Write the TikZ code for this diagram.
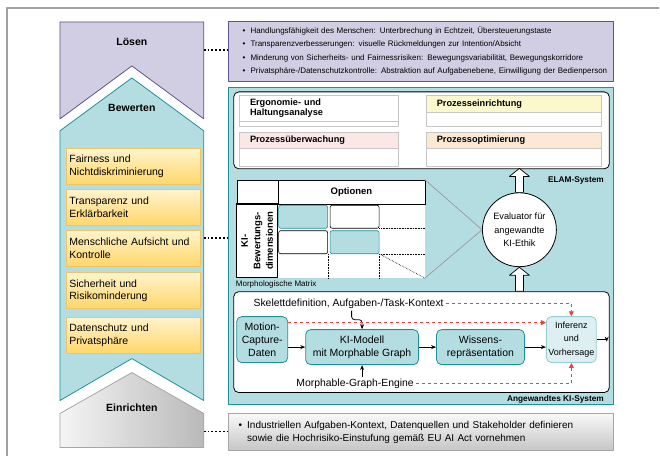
\documentclass[tikz,border=0pt]{standalone}
\usepackage{fontspec}
\setmainfont{Liberation Sans}
\usetikzlibrary{arrows.meta}
\definecolor{lila}{RGB}{209,205,227}
\definecolor{lilaline}{RGB}{95,85,140}
\definecolor{petrol}{RGB}{180,221,226}
\definecolor{petrolline}{RGB}{30,145,150}
\definecolor{crittop}{RGB}{255,244,205}
\definecolor{critbot}{RGB}{255,214,105}
\definecolor{critline}{RGB}{238,196,105}
\definecolor{hdyellow}{RGB}{252,248,205}
\definecolor{hdpink}{RGB}{252,231,231}
\definecolor{hdorange}{RGB}{252,232,212}
\definecolor{inferfill}{RGB}{221,239,243}
\definecolor{inferline}{RGB}{150,205,212}
\definecolor{redash}{RGB}{238,64,64}
\definecolor{framegray}{RGB}{160,160,160}
\begin{document}
\begin{tikzpicture}[
		x=1pt, y=-1pt,
		line join=round,
		font=\fontsize{10}{12}\selectfont
	]
	\tikzset{
		phaselbl/.style = {font=\fontsize{10.5}{12}\selectfont\bfseries},
		critbox/.style = {draw=critline, top color=crittop, bottom color=critbot,
			line width=0.7pt, minimum width=135pt, minimum height=36pt,
			text width=128pt, inner xsep=3.5pt, align=left,
			font=\fontsize{10.5}{12.4}\selectfont},
		infobox/.style = {draw=lilaline, fill=lila, line width=0.8pt,
			minimum width=385pt, minimum height=60pt, text width=357pt,
			inner xsep=14pt, align=left, font=\fontsize{8}{13.3}\selectfont},
		setupbox/.style = {draw=gray!70, top color=gray!5, bottom color=gray!45,
			line width=0.8pt, minimum width=385pt, minimum height=37pt,
			text width=365pt, inner xsep=10pt, align=left,
			font=\fontsize{10}{13}\selectfont},
		sysbox/.style = {draw=black, fill=white, rounded corners=5pt, line width=0.8pt},
		syslbl/.style = {anchor=east, font=\fontsize{8.3}{10}\selectfont\bfseries},
		appbox/.style = {draw=gray!45, fill=white, line width=0.6pt, anchor=north west},
		apphead/.style = {draw=gray!45, line width=0.6pt, anchor=north west,
			align=left, inner xsep=11pt, font=\fontsize{9.2}{10.7}\selectfont\bfseries},
		matline/.style = {draw=black, line width=0.7pt, inner sep=0pt},
		cellt/.style = {fill=petrol, draw=petrolline, rounded corners=2pt,
			line width=0.6pt, minimum width=49pt, minimum height=23pt},
		cellw/.style = {fill=white, draw=black, rounded corners=2pt,
			line width=0.6pt, minimum width=49pt, minimum height=23pt},
		procbox/.style = {draw=petrolline, fill=petrol, rounded corners=5pt,
			line width=0.8pt, align=center, inner sep=1pt,
			font=\fontsize{10.5}{13}\selectfont},
		plain/.style = {inner sep=2pt, font=\fontsize{10.4}{12}\selectfont},
		dots/.style = {line width=1.8pt, dash pattern=on 1.8pt off 2pt},
		edgek/.style = {-{Stealth[length=5pt,width=4pt]}, line width=0.8pt},
		edger/.style = {-{Triangle[length=5pt,width=5pt]}, dashed, redash, line width=0.9pt},
		zoomline/.style = {gray!80, line width=0.7pt},
		blockup/.pic = {\draw[fill=white, line width=0.7pt] (-4,0) -- (-4,-16) -- (-10,-16)
			-- (0,-24) -- (10,-16) -- (4,-16) -- (4,0) -- cycle;},
	}
	% frame
	\draw[framegray, line width=1.5pt] (7,457) -- (7,8) -- (660,8);
	%
	% phases
	\draw[draw=lilaline, fill=lila, line width=0.8pt]
		(60,22) -- (204,22) -- (204,119) -- (132,66) -- (60,119) -- cycle;
	\draw[draw=petrolline, fill=petrol, line width=0.8pt]
		(132,78) -- (204,131) -- (204,401) -- (132,359) -- (60,401) -- (60,131) -- cycle;
	\draw[draw=gray!70, left color=gray!8, right color=gray!55, line width=0.8pt]
		(132,373) -- (204,414) -- (204,448) -- (60,448) -- (60,414) -- cycle;
	\node[phaselbl] at (132,42) (loesen) {Lösen};
	\node[phaselbl] at (132,108) (bewerten) {Bewerten};
	\node[phaselbl] at (132,408) (einrichten) {Einrichten};
	\coordinate (loesenR) at (204,50);
	\coordinate (bewertenR) at (204,238);
	\coordinate (einrichtenR) at (204,432);
	%
	\node[critbox] at (133.5,166.5) (fair) {Fairness und\\Nichtdiskriminierung};
	\node[critbox] at (133.5,207.5) (transp) {Transparenz und\\Erklärbarkeit};
	\node[critbox] at (133.5,248.5) (aufsicht) {Menschliche Aufsicht und\\Kontrolle};
	\node[critbox] at (133.5,291) (sicher) {Sicherheit und\\Risikominderung};
	\node[critbox] at (133.5,335.5) (daten) {Datenschutz und\\Privatsphäre};
	%
	% right column
	\node[infobox] at (421.5,51) (loesung) {%
		\begin{tabular}{@{}l@{\hspace{5pt}}l@{}}
		\textbullet & Handlungsfähigkeit des Menschen: Unterbrechung in Echtzeit, Übersteuerungstaste\\
		\textbullet & Transparenzverbesserungen: visuelle Rückmeldungen zur Intention/Absicht\\
		\textbullet & Minderung von Sicherheits- und Fairnessrisiken: Bewegungsvariabilität, Bewegungskorridore\\
		\textbullet & Privatsphäre-/Datenschutzkontrolle: Abstraktion auf Aufgabenebene, Einwilligung der Bedienperson
		\end{tabular}};
	\node[draw=petrolline, fill=petrol, line width=0.8pt, minimum width=385pt,
		minimum height=318pt] at (421.5,246) (elam) {};
	\node[setupbox] at (421.5,432.5) (setup) {%
		\begin{tabular}{@{}l@{\hspace{5pt}}l@{}}
		\textbullet & Industriellen Aufgaben-Kontext, Datenquellen und Stakeholder definieren\\
		& sowie die Hochrisiko-Einstufung gemäß EU AI Act vornehmen
		\end{tabular}};
	%
	\draw[dots] (loesenR) -- (loesung.west |- loesenR);
	\draw[dots] (bewertenR) -- (elam.west |- bewertenR);
	\draw[dots] (einrichtenR) -- (setup.west |- einrichtenR);
	%
	% ELAM system
	\node[sysbox, minimum width=376pt, minimum height=77pt] at (422,130.5) (elamin) {};
	\node[appbox, minimum width=159pt, minimum height=31pt] at (239,95) (ergo) {};
	\node[apphead, fill=white, minimum width=159pt, minimum height=22pt, text width=137pt]
		at (ergo.north west) (ergohd) {Ergonomie- und\\Haltungsanalyse};
	\node[appbox, minimum width=176pt, minimum height=31pt] at (426,95) (einr) {};
	\node[apphead, fill=hdyellow, minimum width=176pt, minimum height=17pt, text width=154pt]
		at (einr.north west) (einrhd) {Prozesseinrichtung};
	\node[appbox, minimum width=159pt, minimum height=34pt] at (239,132) (ueberw) {};
	\node[apphead, fill=hdpink, minimum width=159pt, minimum height=16pt, text width=137pt]
		at (ueberw.north west) (ueberwhd) {Prozessüberwachung};
	\node[appbox, minimum width=176pt, minimum height=34pt] at (426,132) (optim) {};
	\node[apphead, fill=hdorange, minimum width=176pt, minimum height=16pt, text width=154pt]
		at (optim.north west) (optimhd) {Prozessoptimierung};
	\node[syslbl] at (608,181) (elamlbl) {ELAM-System};
	%
	% morphological matrix
	\node[fill=white, inner sep=0pt, anchor=north west, minimum width=188pt,
		minimum height=98pt] at (237,180) (tabbg) {};
	\node[matline, anchor=north west, minimum width=41pt, minimum height=24pt] at (237,180) (corner) {};
	\node[matline, anchor=north west, minimum width=147pt, minimum height=24pt,
		font=\fontsize{9.5}{11}\selectfont\bfseries] at (278,180) (opt) {Optionen};
	\node[matline, rotate=90, minimum width=74pt, minimum height=41pt, align=center,
		font=\fontsize{9.5}{12.5}\selectfont\bfseries] at (257.5,241) (dims) {KI-\\Bewertungs-\\dimensionen};
	\node[cellt] at (303.5,217) (c11) {};
	\node[cellw] at (355,217) (c12) {};
	\node[cellw] at (303.5,242.5) (c21) {};
	\node[cellt] at (355,242.5) (c22) {};
	\draw[densely dotted, line width=0.6pt] (c12.south east) -- (c12.south east -| tabbg.east);
	\draw[densely dotted, line width=0.6pt] (c22.south east) -- (c22.south east -| tabbg.east);
	\draw[densely dotted, line width=0.6pt] (c22.south east) -- (tabbg.south east);
	\draw[densely dotted, line width=0.6pt] (c21.south east) -- (c21.south east |- tabbg.south);
	\draw[densely dotted, line width=0.6pt] (c22.south east) -- (c22.south east |- tabbg.south);
	\node[anchor=west, inner sep=0pt, font=\fontsize{8}{9}\selectfont] at (236,285) (matlbl) {Morphologische Matrix};
	%
	% evaluator
	\node[circle, draw, fill=white, line width=0.8pt, minimum size=74pt, inner sep=0pt,
		align=center, font=\fontsize{9.2}{13.3}\selectfont] at (520,230) (evalu)
		{Evaluator für\\angewandte\\KI-Ethik};
	\draw[zoomline] (tabbg.north east) -- (evalu.west);
	\draw[zoomline] (tabbg.south east) -- (evalu.west);
	\pic at (evalu.north) {blockup};
	%
	% applied AI system
	\node[sysbox, minimum width=376pt, minimum height=101pt] at (422,342.5) (kisys) {};
	\pic at (kisys.north -| evalu.north) {blockup};
	\node[syslbl] at (608,400) (kilbl) {Angewandtes KI-System};
	\node[plain] at (349,304) (skel) {Skelettdefinition, Aufgaben-/Task-Kontext};
	\node[plain] at (355.5,384) (engine) {Morphable-Graph-Engine};
	\node[procbox, minimum width=51pt, minimum height=46pt] at (262.5,340) (mocap) {Motion-\\Capture-\\Daten};
	\node[procbox, minimum width=113pt, minimum height=35pt] at (362.5,347.5) (kimod) {KI-Modell\\mit Morphable Graph};
	\node[procbox, minimum width=88pt, minimum height=35pt] at (481,347.5) (wissen) {Wissens-\\repräsentation};
	\node[procbox, fill=inferfill, draw=inferline, minimum width=50pt, minimum height=46pt,
		font=\fontsize{9}{13.3}\selectfont] at (572,340) (infer) {Inferenz\\und\\Vorhersage};
	%
	\draw[edgek] (mocap.east |- kimod.west) -- (kimod.west);
	\draw[edgek] (kimod.east) -- (wissen.west);
	\draw[edgek] (wissen.east) -- (infer.west |- wissen.east);
	\draw[edgek] (infer.east) -- ++(10,0) -- ++(0,2);
	\draw[edgek, rounded corners=3pt] ([xshift=3pt]skel.south) -- ++(0,9) -| (kimod.north);
	\draw[edgek] (kimod.south |- engine.north) -- (kimod.south);
	%
	\draw[edger] (skel.east) -| (infer.north);
	\draw[edger] ([yshift=17pt]mocap.east) -- ([yshift=17pt]infer.west);
	\draw[edger] (engine.east) -| (infer.south);
	%
	\useasboundingbox (0,0) rectangle (660,457);
\end{tikzpicture}
\end{document}
